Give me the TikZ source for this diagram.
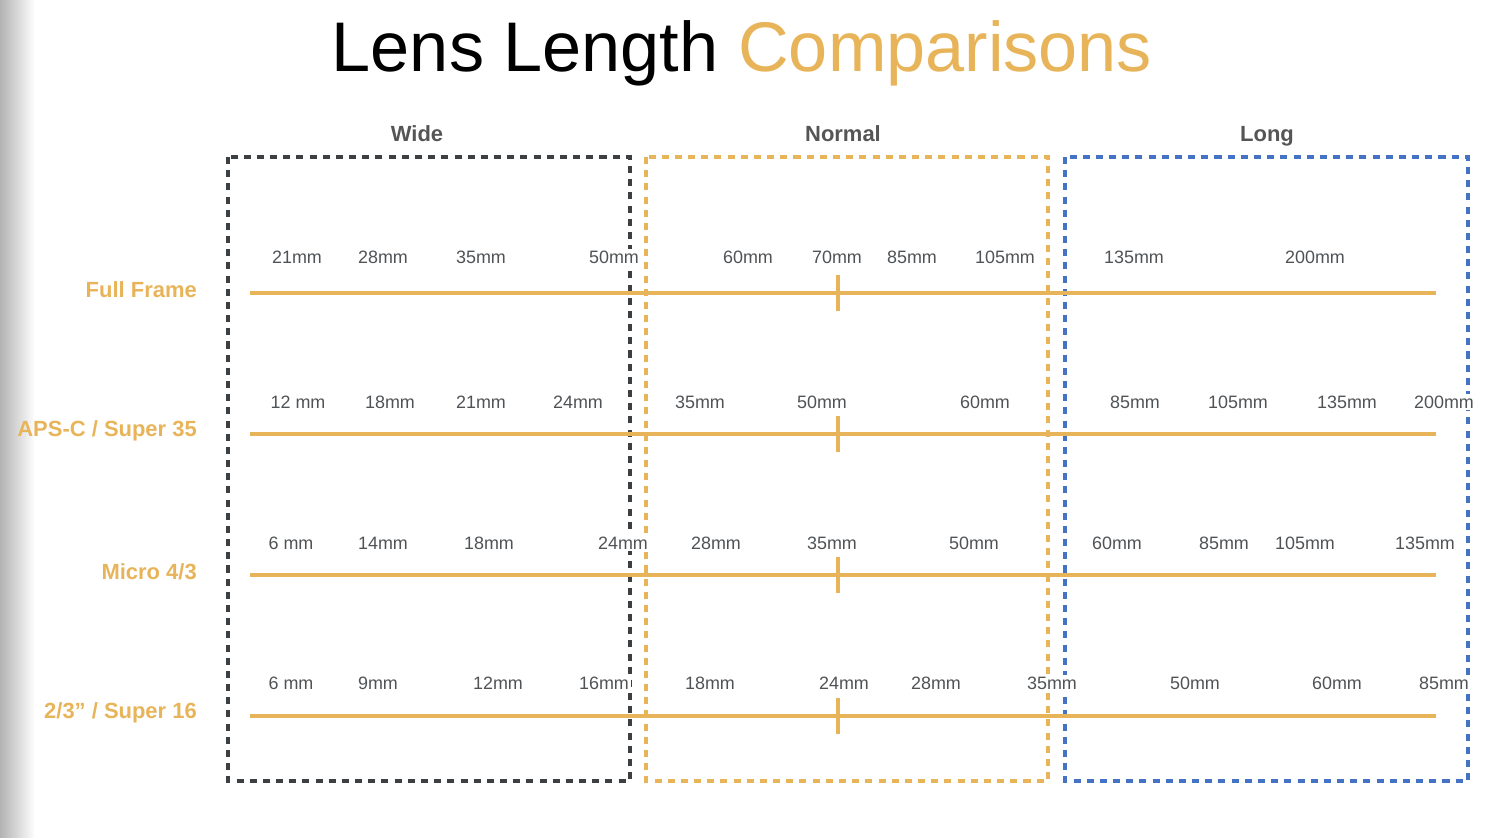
\documentclass[tikz,border=0pt]{standalone}
\usepackage{fontspec}
\setmainfont{Liberation Sans}
\definecolor{dk}{HTML}{3C4043}
\definecolor{org}{HTML}{E8B45A}
\definecolor{blu}{HTML}{4472C4}
\definecolor{hd}{HTML}{555555}
\begin{document}
\begin{tikzpicture}[x=0.02cm,y=-0.02cm,
  box/.style={line width=1.8pt,dash pattern=on 4pt off 3.5pt},
  lbl/.style={font=\fontsize{10.2}{12}\selectfont,text=dk!90,fill=white,inner sep=1pt},
  row/.style={font=\bfseries\fontsize{12.5}{14}\selectfont,text=org,anchor=east},
  hdr/.style={font=\bfseries\fontsize{12.5}{14}\selectfont,text=hd,anchor=base},
  axis/.style={org,line width=1.8pt}]
\useasboundingbox (0,0) rectangle (1508,838);
\shade[left color=black!30,right color=white] (0,0) rectangle (35,838);
\node (title) at (742,53) {\fontsize{40}{44}\selectfont Lens Length \textcolor{org}{Comparisons}};
\node[hdr] (hw) at (417,142) {Wide};
\node[hdr] (hn) at (843,142) {Normal};
\node[hdr] (hl) at (1267,142) {Long};
\draw[box,dk] (228,157) rectangle (630,781);
\draw[box,org] (646,157) rectangle (1048,781);
\draw[box,blu] (1065,157) rectangle (1468,781);
\foreach \y/\t in {293/{Full Frame},434/{APS-C / Super 35},575/{Micro 4/3},716/{2/3” / Super 16}}{
  \node[row] at (203,\y-3) {\t};
  \draw[axis] (250,\y) -- (1436,\y);
  \draw[axis] (838,\y-18) -- (838,\y+18);
}
\foreach \x/\t in {297/21mm,383/28mm,481/35mm,614/50mm,748/60mm,837/70mm,912/85mm,1005/105mm,1134/135mm,1315/200mm}
  \node[lbl] at (\x,257) {\t};
\foreach \x/\t in {298/12 mm,390/18mm,481/21mm,578/24mm,700/35mm,822/50mm,985/60mm,1135/85mm,1238/105mm,1347/135mm,1444/200mm}
  \node[lbl] at (\x,402) {\t};
\foreach \x/\t in {291/6 mm,383/14mm,489/18mm,623/24mm,716/28mm,832/35mm,974/50mm,1117/60mm,1224/85mm,1305/105mm,1425/135mm}
  \node[lbl] at (\x,543) {\t};
\foreach \x/\t in {291/6 mm,378/9mm,498/12mm,604/16mm,710/18mm,844/24mm,936/28mm,1052/35mm,1195/50mm,1337/60mm,1444/85mm}
  \node[lbl] at (\x,683) {\t};
\end{tikzpicture}
\end{document}
